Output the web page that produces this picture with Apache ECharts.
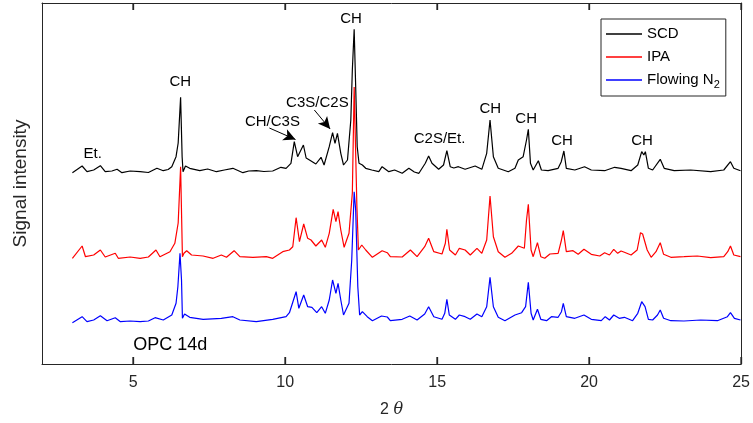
<!DOCTYPE html>
<html><head><meta charset="utf-8">
<script src="https://cdn.jsdelivr.net/npm/echarts@6/dist/echarts.min.js"></script>
<style>html,body{margin:0;padding:0;background:#fff}#c{width:753px;height:423px}</style>
</head><body><div id="c"></div>
<script>
// 2-theta positions and signal (a.u., with vertical offset per trace)
const scd = [[3.00,191.3],[3.32,198],[3.48,192.3],[3.70,194],[3.92,198.3],[4.08,192.3],[4.30,193],[4.47,194.7],[4.63,191.3],[4.90,193],[5.23,192.3],[5.50,191.5],[5.78,195.7],[5.99,193.3],[6.15,194.5],[6.27,197.3],[6.41,207.3],[6.48,221],[6.56,266.7],[6.61,207.3],[6.64,192.3],[6.72,198],[6.86,195.7],[7.19,193.3],[7.45,195],[7.74,192.3],[8.00,194],[8.28,195.7],[8.61,191.3],[8.80,193],[9.05,193.3],[9.30,192.5],[9.59,193],[9.86,196.7],[10.03,195.7],[10.19,200.7],[10.30,222.3],[10.41,207.3],[10.60,219],[10.69,206],[10.80,204],[11.01,200],[11.18,206.7],[11.28,199],[11.45,217.3],[11.56,231.3],[11.64,220.7],[11.72,230.7],[11.83,210.7],[11.92,199],[12.05,204],[12.16,244],[12.21,294],[12.27,334.7],[12.32,277.3],[12.37,217.3],[12.43,200.7],[12.54,199],[12.65,195.7],[12.85,194],[13.08,192.3],[13.19,197.3],[13.41,192.3],[13.60,194],[13.85,190.7],[14.07,195.7],[14.25,192],[14.40,190.7],[14.61,200.7],[14.72,208],[14.83,200.7],[15.05,194.7],[15.21,199],[15.32,213.3],[15.43,197.3],[15.55,196],[15.70,197.3],[15.92,194.7],[16.25,198],[16.47,194.7],[16.63,210.7],[16.74,244],[16.85,207.3],[17.01,195.7],[17.34,192.3],[17.56,195.7],[17.67,204],[17.83,207.3],[17.94,224],[18.00,234.7],[18.07,200.7],[18.16,194],[18.33,203.3],[18.43,194],[18.65,193.3],[18.98,195.7],[19.08,202],[19.17,213],[19.25,195.7],[19.53,194],[19.85,197.3],[20.07,194],[20.51,193.3],[20.84,196.7],[21.05,195.7],[21.38,193.3],[21.60,199],[21.73,212.3],[21.80,209],[21.85,212.3],[21.95,195.7],[22.09,194],[22.34,204.7],[22.47,195.7],[22.80,193.3],[23.34,194],[24.00,192.3],[24.43,194],[24.65,202.3],[24.76,195.7],[24.98,193.3]];
const ipa = [[3.00,105.7],[3.32,118],[3.43,107.3],[3.70,109],[3.92,114],[4.08,107],[4.41,110.7],[4.51,105.7],[4.90,107],[5.23,105.7],[5.50,107],[5.75,114],[5.88,107.3],[6.21,112.3],[6.37,120.7],[6.48,141],[6.56,197.3],[6.62,107.3],[6.67,110.7],[6.76,113.3],[6.92,109],[7.30,108],[7.63,105.7],[7.90,109],[8.07,106.7],[8.32,113.3],[8.51,107.3],[8.94,106.7],[9.38,107.3],[9.59,105.7],[9.92,112.3],[10.14,114],[10.25,117.3],[10.36,146.3],[10.47,122.3],[10.61,140],[10.74,125.7],[10.85,124],[11.01,118],[11.20,124],[11.32,116.7],[11.45,130.7],[11.58,154.7],[11.67,142.3],[11.74,152.3],[11.83,134],[11.94,116.7],[12.10,130.7],[12.21,171],[12.27,277],[12.36,157.3],[12.41,114],[12.52,119],[12.65,114],[12.87,106.7],[13.19,113.3],[13.36,111.3],[13.46,107.3],[13.85,107],[14.12,114],[14.34,107.3],[14.59,117.3],[14.72,125.7],[14.89,112.3],[15.16,110],[15.27,120.7],[15.32,134.7],[15.41,114],[15.60,109],[15.73,115.7],[15.92,114],[16.09,109],[16.31,115.7],[16.47,110.7],[16.63,124],[16.74,168],[16.85,127.3],[17.01,112.3],[17.23,106.7],[17.45,110.7],[17.67,118],[17.87,115.7],[17.94,144],[18.00,159.7],[18.09,114],[18.16,107.3],[18.30,121.3],[18.41,107.3],[18.54,105.7],[18.71,110],[18.98,110.7],[19.09,124],[19.15,133.3],[19.25,112.3],[19.47,113.3],[19.64,109.7],[19.83,114.7],[20.07,109.7],[20.35,108],[20.51,111.3],[20.67,109],[20.81,114.7],[20.94,110.7],[21.05,113],[21.16,111.7],[21.38,109],[21.58,114],[21.69,131.3],[21.76,130],[21.82,131.3],[21.91,114],[22.04,106.7],[22.20,112.3],[22.34,121.3],[22.45,109.7],[22.69,106.7],[23.12,107.3],[23.56,108],[24.00,106.3],[24.43,107.3],[24.56,112.3],[24.65,118],[24.76,109],[24.98,107.3]];
const n2 = [[3.00,41.3],[3.32,47.3],[3.48,42.3],[3.70,44],[3.92,48.3],[4.14,43.3],[4.41,46.3],[4.58,42.3],[4.90,43],[5.23,42.3],[5.50,43],[5.72,46.3],[5.99,44],[6.27,49],[6.41,60.7],[6.47,77.3],[6.54,110.7],[6.59,84],[6.62,45.7],[6.69,50],[6.86,46.7],[7.30,44.7],[7.90,45.7],[8.28,47.3],[8.51,44],[9.05,42.3],[9.59,44.7],[10.03,47.3],[10.14,51.3],[10.36,72.3],[10.45,55.7],[10.61,69],[10.74,57.3],[10.88,56.7],[11.04,51.3],[11.20,57.3],[11.32,50.7],[11.45,64],[11.56,84],[11.67,70.7],[11.74,80.7],[11.83,64],[11.92,49],[12.10,60.7],[12.19,104],[12.27,172.3],[12.32,154],[12.39,77.3],[12.45,49],[12.54,52.3],[12.70,47.3],[12.87,43.3],[13.17,48],[13.36,47],[13.46,43.3],[13.85,44.7],[14.10,48],[14.34,44],[14.59,50],[14.72,57.3],[14.89,47.3],[15.16,44.7],[15.25,50.7],[15.32,64.7],[15.40,49],[15.60,44.7],[15.73,49],[15.92,47.3],[16.09,44.7],[16.31,50],[16.47,47.3],[16.63,57.3],[16.74,86.7],[16.85,57.3],[17.01,46.7],[17.23,43.3],[17.56,49],[17.78,51.3],[17.91,57.3],[18.00,81.7],[18.09,50.7],[18.16,44],[18.30,54.7],[18.41,44.7],[18.60,43.3],[18.76,47.3],[18.98,46.7],[19.09,52.3],[19.15,60.7],[19.25,47.3],[19.53,45.7],[19.83,49],[20.07,44.7],[20.40,43.3],[20.53,47.3],[20.67,44],[20.81,49],[20.99,45.7],[21.16,46.7],[21.43,43.3],[21.60,50.7],[21.73,62.3],[21.84,57.3],[21.95,44.7],[22.09,44],[22.25,49],[22.34,54],[22.45,45.7],[22.69,43.3],[23.12,43],[23.67,44],[24.22,43.3],[24.55,47.3],[24.65,51.3],[24.78,45.7],[24.98,44]];

const seriesNames = ['SCD', 'IPA', 'Flowing N2'];
const xTicks = [5, 10, 15, 20, 25];
// peak annotations: text, 2-theta, signal level
const annoText = ['Et.', 'CH', 'CH/C3S', 'C3S/C2S', 'CH', 'C2S/Et.', 'CH', 'CH', 'CH', 'CH'];
const annoX    = [3.67, 6.55, 9.58, 11.06, 12.17, 15.08, 16.75, 17.93, 19.11, 21.74];
const annoY    = [210, 282, 242, 261, 345, 225.5, 255, 245, 223, 223];
// arrows: [from 2theta, from signal, to 2theta, to signal]
const arrows = [[9.48, 236, 10.34, 224.5], [10.96, 254, 11.48, 235]];

const FONT = 'Liberation Sans, Arial, sans-serif';
const AX = '#262626';
const chart = echarts.init(document.getElementById('c'));

const axisCommon = {type: 'value', min: 2, max: 25, splitLine: {show: false},
  axisLine: {show: true, onZero: false, lineStyle: {color: AX, width: 1}}};

chart.setOption({
  animation: false,
  backgroundColor: '#fff',
  grid: {left: 42, right: 9, top: 3, bottom: 59},
  xAxis: [
    Object.assign({}, axisCommon, {position: 'bottom',
      name: '2 {i|θ}', nameLocation: 'middle', nameGap: 38,
      nameTextStyle: {fontFamily: FONT, fontSize: 16, color: '#262626', rich: {i: {fontStyle: 'italic', fontFamily: 'DejaVu Serif, serif', fontSize: 16, color: '#262626'}}},
      axisTick: {show: true, inside: true, length: 7, customValues: xTicks, lineStyle: {color: AX, width: 1.3}},
      axisLabel: {show: true, customValues: xTicks, margin: 11, fontFamily: FONT, fontSize: 16, color: '#262626'}}),
    Object.assign({}, axisCommon, {position: 'top',
      axisTick: {show: true, inside: true, length: 7, customValues: xTicks, lineStyle: {color: AX, width: 1.3}},
      axisLabel: {show: false}})
  ],
  yAxis: [
    {type: 'value', min: 0, max: 361, position: 'left', splitLine: {show: false},
     axisLine: {show: true, onZero: false, lineStyle: {color: AX, width: 1}},
     axisTick: {show: false}, axisLabel: {show: false},
     name: 'Signal intensity', nameLocation: 'middle', nameGap: 12,
     nameTextStyle: {fontFamily: FONT, fontSize: 19, color: '#262626'}},
    {type: 'value', min: 0, max: 361, position: 'right', splitLine: {show: false},
     axisLine: {show: true, onZero: false, lineStyle: {color: AX, width: 1}},
     axisTick: {show: false}, axisLabel: {show: false}}
  ],
  legend: {
    orient: 'vertical', left: 601, top: 19, padding: [6, 6, 6, 5], itemGap: 5,
    backgroundColor: '#fff', borderColor: AX, borderWidth: 1, borderRadius: 0,
    icon: 'rect', itemWidth: 36, itemHeight: 1.5,
    data: seriesNames,
    formatter: function (n) { return n === 'Flowing N2' ? 'Flowing N{sub|2}' : n; },
    textStyle: {fontFamily: FONT, fontSize: 15, color: '#000', lineHeight: 18,
      rich: {sub: {fontFamily: FONT, fontSize: 11, color: '#000', padding: [9, 0, 0, 0]}}}
  },
  series: [
    {name: seriesNames[0], type: 'line', data: scd, showSymbol: false, symbol: 'none', color: '#000',
     lineStyle: {color: '#000', width: 1.2},
     markLine: {silent: true, symbol: ['none', 'arrow'], symbolSize: [9, 12], animation: false,
       label: {show: false}, lineStyle: {color: '#000', width: 1, type: 'solid'},
       data: arrows.map(a => [{coord: [a[0], a[1]]}, {coord: [a[2], a[3]]}])}},
    {name: seriesNames[1], type: 'line', data: ipa, showSymbol: false, symbol: 'none', color: '#ff0000',
     lineStyle: {color: '#ff0000', width: 1.2}},
    {name: seriesNames[2], type: 'line', data: n2, showSymbol: false, symbol: 'none', color: '#0000ff',
     lineStyle: {color: '#0000ff', width: 1.2}}
  ]
});

const g = annoText.map((t, i) => {
  const p = chart.convertToPixel({xAxisIndex: 0, yAxisIndex: 0}, [annoX[i], annoY[i]]);
  return {type: 'text', x: p[0], y: p[1], z: 100,
    style: {text: t, fontFamily: FONT, fontSize: 15, fill: '#000', align: 'center', verticalAlign: 'middle'}};
});
const po = chart.convertToPixel({xAxisIndex: 0, yAxisIndex: 0}, [5, 19]);
g.push({type: 'text', x: po[0], y: po[1], z: 100,
  style: {text: 'OPC 14d', fontFamily: FONT, fontSize: 18, fill: '#000', align: 'left', verticalAlign: 'middle'}});
// inward tick marks on bottom and top frame, positioned through the axis scales
xTicks.forEach(v => {
  const b = chart.convertToPixel({xAxisIndex: 0, yAxisIndex: 0}, [v, 0]);
  const t = chart.convertToPixel({xAxisIndex: 0, yAxisIndex: 0}, [v, 361]);
  const x = Math.round(b[0]);
  g.push({type: 'rect', z: 50, shape: {x: x - 0.6, y: b[1] - 7, width: 1.3, height: 7}, style: {fill: AX}});
  g.push({type: 'rect', z: 50, shape: {x: x - 0.6, y: t[1], width: 1.3, height: 7}, style: {fill: AX}});
});
chart.setOption({graphic: g});
</script>
</body></html>
